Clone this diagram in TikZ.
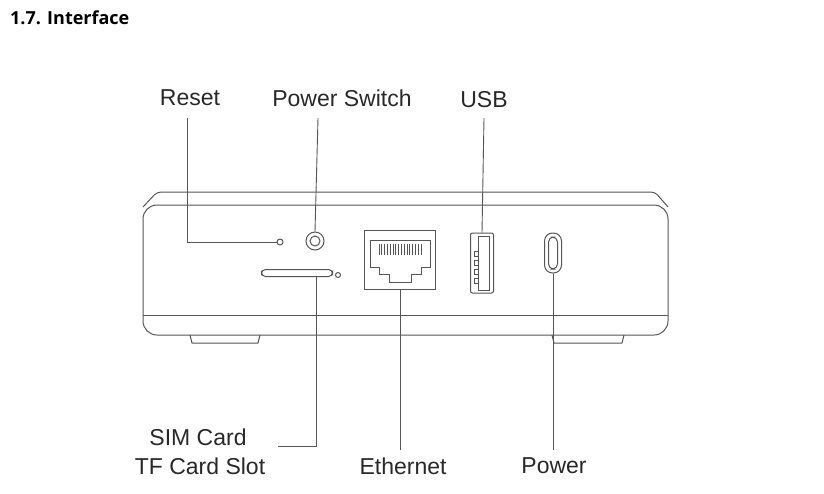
\documentclass[tikz,border=0pt]{standalone}
\usepackage{fontspec}
\setmainfont{Liberation Sans}
\newfontfamily\titlefont{Open Sans}[BoldFont={* Bold}]
\definecolor{lineg}{RGB}{85,85,85}
\definecolor{txtg}{RGB}{40,40,40}

\begin{document}
\begin{tikzpicture}[x=1pt,y=-1pt,
  part/.style={draw=lineg, line width=1pt},
  lead/.style={draw=lineg, line width=0.9pt},
  lbl/.style={text=txtg, font=\fontsize{23}{25}\selectfont, inner sep=0pt}]
  \useasboundingbox (0,0) rectangle (824,493);
  \node[anchor=west, font=\fontsize{18}{20}\selectfont\bfseries\titlefont, inner sep=0pt] (title) at (10,18) {\textbf{1.7. Interface}};
  %lid and body
  \draw[part, rounded corners=4pt] (143,207) -- (157,192) -- (655,192) -- (668,207);
  \draw[part, rounded corners=14pt] (143,205) -- (143,335) -- (668,335) -- (668,205) -- cycle;
  \draw[part] (143,315) -- (668,315);
  %feet
  \draw[part] (190,335) -- (192,343) -- (258,343) -- (260,335);
  \draw[part] (552,335) -- (554,343) -- (622,343) -- (624,335);
  %ports
  \node[part, circle, minimum size=6pt, inner sep=0pt] (reset) at (280,242) {};
  \node[part, circle, minimum size=18pt, inner sep=0pt] (pwr) at (315,241) {};
  \node[part, circle, minimum size=10pt, inner sep=0pt] at (315,241) {};
  \node[part, rounded corners=4pt, minimum width=71pt, minimum height=7pt, inner sep=0pt] (sim) at (297,273) {};
  \node[part, circle, minimum size=5pt, inner sep=0pt] at (338,275) {};
  \node[draw=lineg, line width=1.6pt, minimum width=71pt, minimum height=59pt, inner sep=0pt] (eth) at (400,260) {};
  \draw[part] (370,240) -- (430,240) -- (430,267) -- (421,267) -- (421,274) -- (411,274) -- (411,282) -- (389,282) -- (389,274) -- (379,274) -- (379,267) -- (370,267) -- cycle;
  \foreach \i in {0,...,15} \draw[lineg, line width=0.7pt] (379+\i*2.8,244) -- (379+\i*2.8,255);
  \node[part, rounded corners=2pt, minimum width=23pt, minimum height=60pt, inner sep=0pt] (usb) at (482,263) {};
  \draw[part] (478,236) rectangle (489,290);
  \foreach \yy in {251,260,269,278} \draw[lineg, line width=0.8pt] (474,\yy) rectangle (478,\yy+5);
  \node[part, rounded corners=8pt, minimum width=17pt, minimum height=40pt, inner sep=0pt] (typec) at (553,253) {};
  \node[part, rounded corners=5pt, minimum width=9pt, minimum height=32pt, inner sep=0pt] at (553,253) {};
  %labels
  \node[lbl] (lreset) at (190,98) {Reset};
  \node[lbl] (lpwr) at (342,98) {Power Switch};
  \node[lbl] (lusb) at (484,100) {USB};
  \node[lbl] (lsim) at (198,437) {SIM Card};
  \node[lbl] (ltf) at (200,466) {TF Card Slot};
  \node[lbl] (leth) at (403,466) {Ethernet};
  \node[lbl] (lpower) at (554,466) {Power};
  %leader lines
  \coordinate (c1) at (187,118);
  \coordinate (c2) at (318,118);
  \coordinate (c3) at (484,118);
  \coordinate (c4) at (278,446);
  \draw[lead] (c1) |- (reset.west);
  \draw[lead] (c2) -- (pwr.north);
  \draw[lead] (c3) -- (usb.north);
  \draw[lead] (316,277) |- (c4);
  \draw[lead] (eth.south) -- (400,450);
  \draw[lead] (typec.south) -- (553,450);
\end{tikzpicture}
\end{document}
